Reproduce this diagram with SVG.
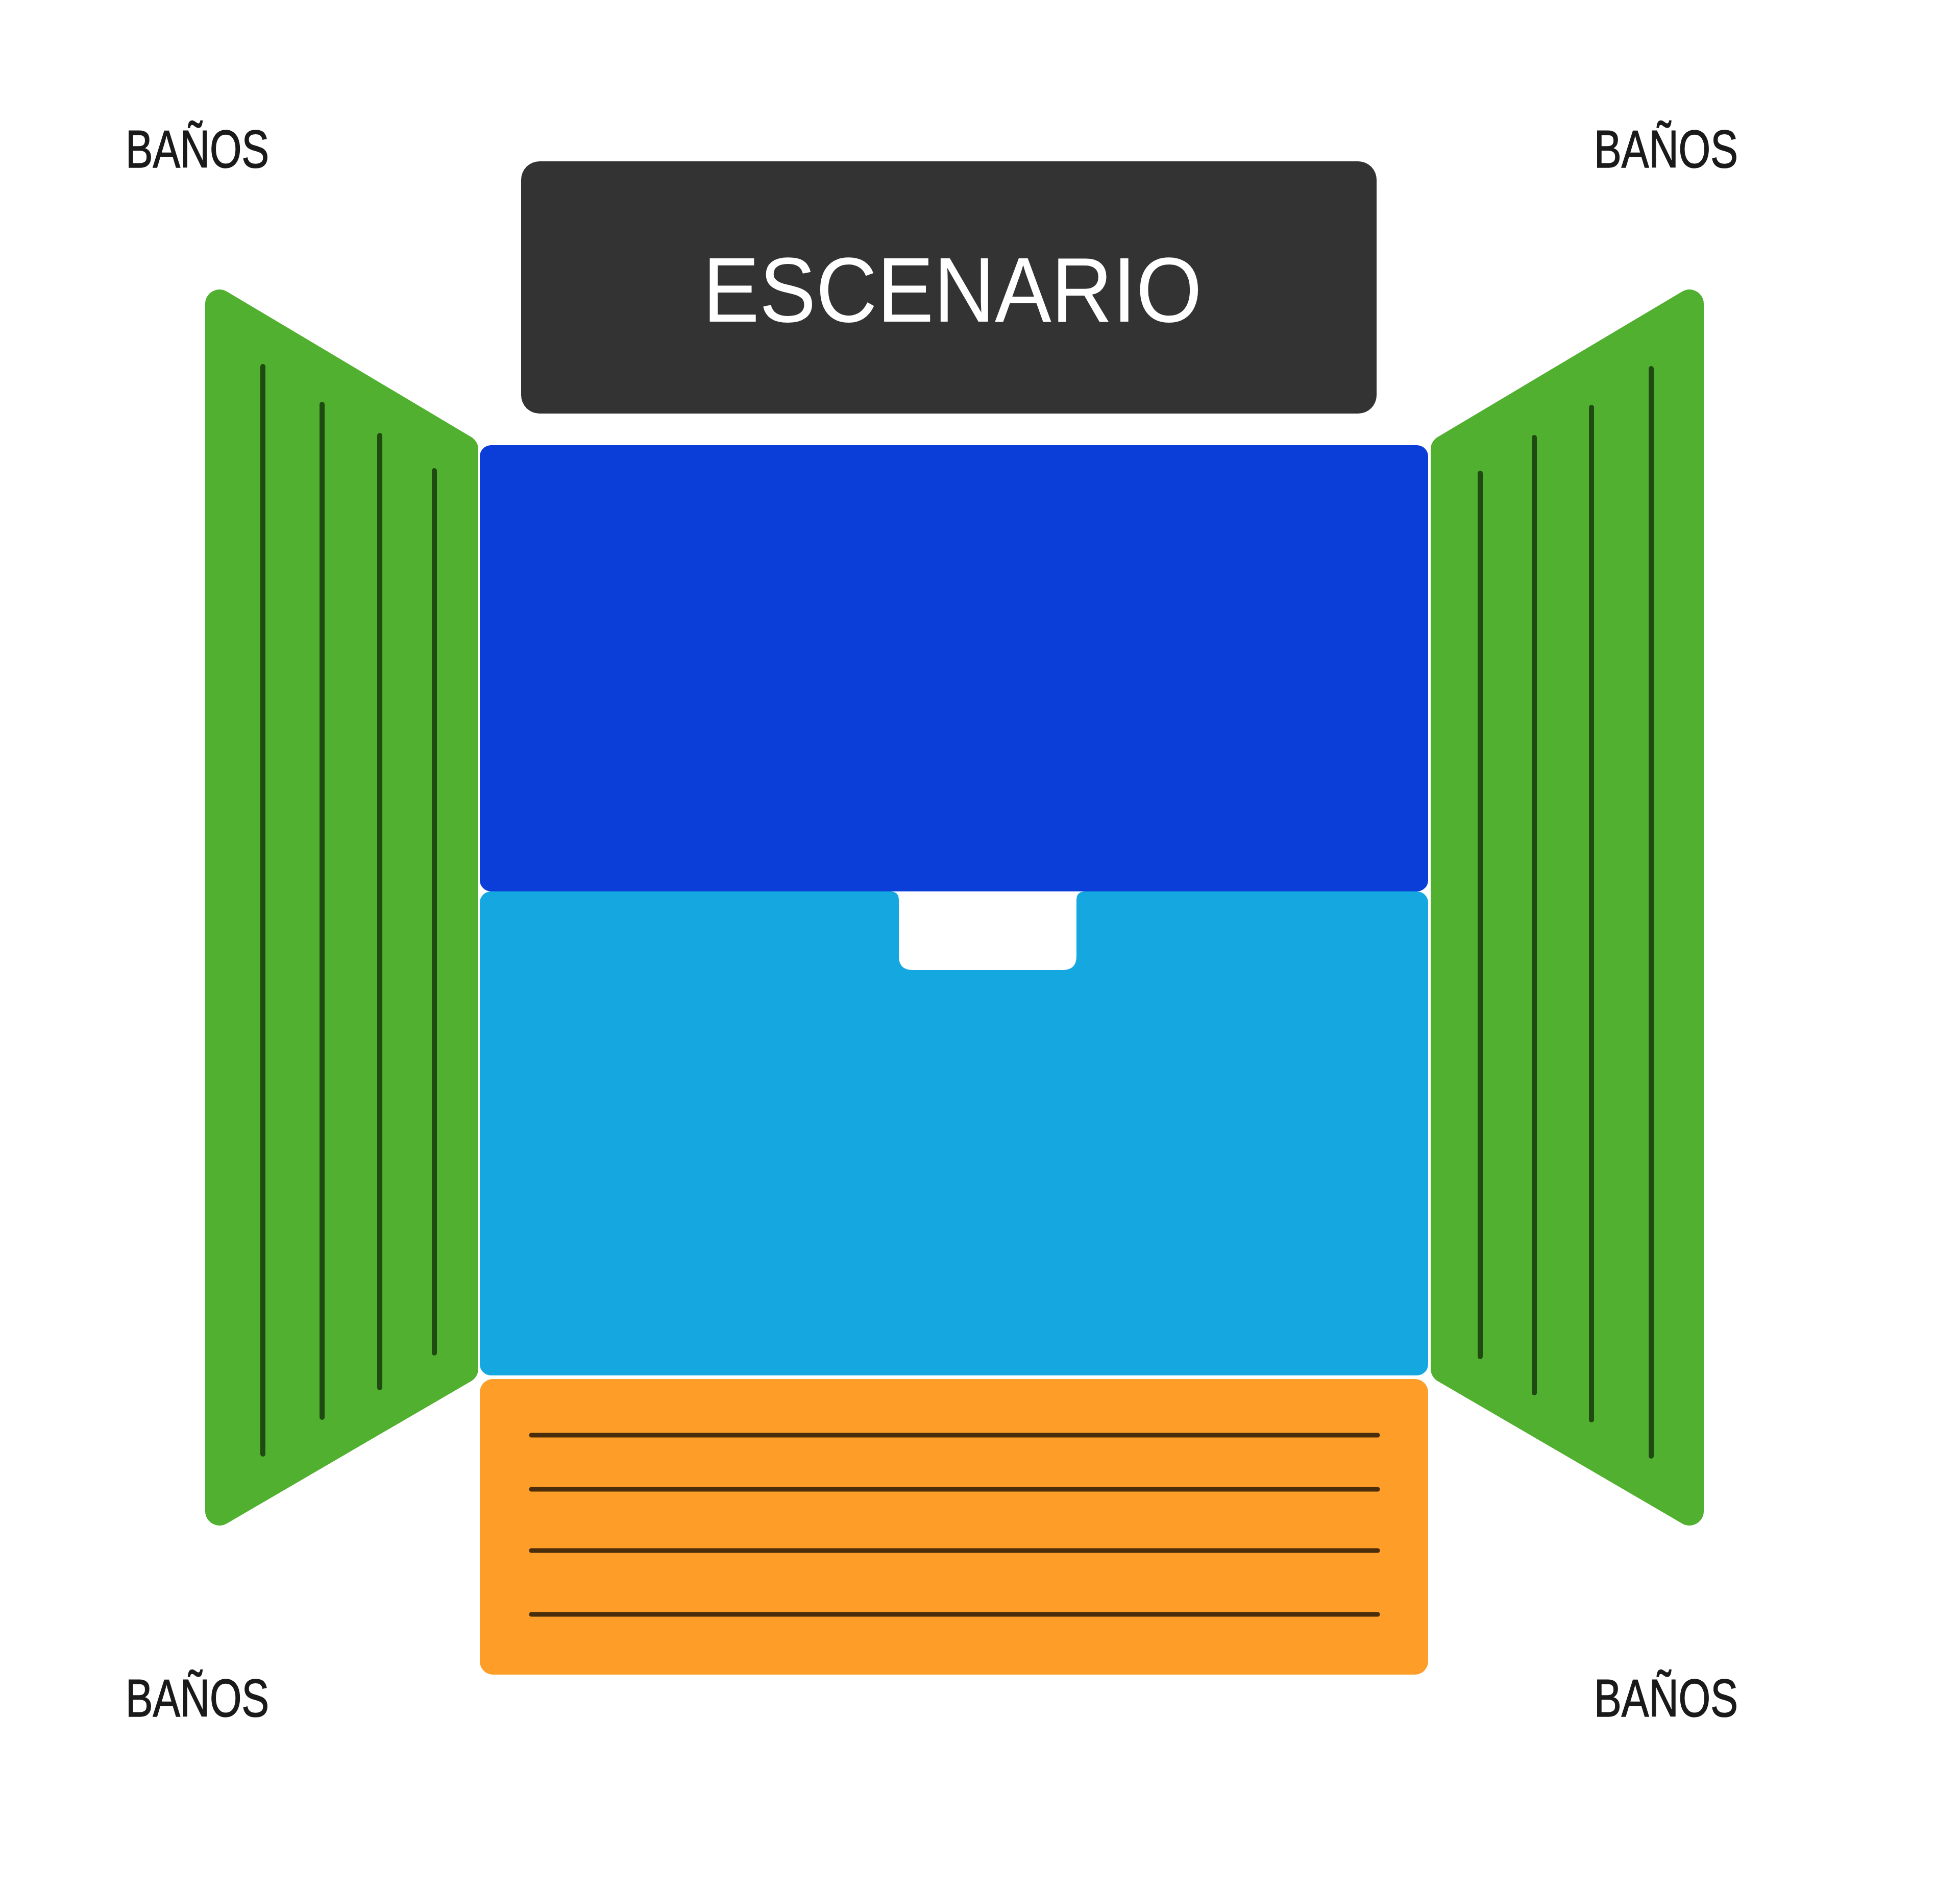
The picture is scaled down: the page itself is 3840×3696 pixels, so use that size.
<svg xmlns="http://www.w3.org/2000/svg" width="3840" height="3696" viewBox="0 0 3840 3696">
  <style>
    .green { fill: #51B02F; stroke: #51B02F; stroke-width: 56; stroke-linejoin: round; }
    .gline { stroke: #1F4A12; stroke-width: 10; stroke-linecap: round; fill: none; }
    .oline { stroke: #4A2E0B; stroke-width: 9; stroke-linecap: round; fill: none; }
    .banos { font-family: "Liberation Sans", Arial, sans-serif; font-size: 103px; fill: #1A1A1A; stroke: #1A1A1A; stroke-width: 1.5; }
    .stage-text { font-family: "Liberation Sans", Arial, sans-serif; font-size: 180px; fill: #FFFFFF; }
  </style>
  <rect x="0" y="0" width="3840" height="3696" fill="#FFFFFF"/>

  <g id="escenario">
    <rect x="1021" y="316" width="1676" height="494" rx="36" ry="36" fill="#333333"/>
    <text class="stage-text" x="1377" y="630" textLength="978" lengthAdjust="spacingAndGlyphs">ESCENARIO</text>
  </g>

  <g id="zona-izquierda">
    <polygon class="green" points="430,595 909,880 909,2681 430,2960"/>
    <line class="gline" x1="515" y1="718" x2="515" y2="2848"/>
    <line class="gline" x1="631" y1="792" x2="631" y2="2776"/>
    <line class="gline" x1="744" y1="853" x2="744" y2="2718"/>
    <line class="gline" x1="851" y1="922" x2="851" y2="2650"/>
  </g>

  <g id="zona-derecha">
    <polygon class="green" points="3310,595 2831,880 2831,2681 3310,2960"/>
    <line class="gline" x1="3235" y1="722" x2="3235" y2="2852"/>
    <line class="gline" x1="3118" y1="798" x2="3118" y2="2781"/>
    <line class="gline" x1="3006" y1="857" x2="3006" y2="2728"/>
    <line class="gline" x1="2900" y1="927" x2="2900" y2="2657"/>
  </g>

  <g id="zona-azul">
    <rect x="940" y="872" width="1858" height="874" rx="22" ry="22" fill="#0B3ED9"/>
  </g>

  <g id="zona-celeste">
    <rect x="940" y="1746" width="1858" height="948" rx="22" ry="22" fill="#15A8E0"/>
    <path d="M1744,1746 Q1761,1746 1761,1763 L1761,1873 Q1761,1900 1788,1900 L2082,1900 Q2109,1900 2109,1873 L2109,1763 Q2109,1746 2126,1746 Z" fill="#FFFFFF"/>
  </g>

  <g id="zona-naranja">
    <rect x="940" y="2701" width="1858" height="579" rx="26" ry="26" fill="#FE9D28"/>
    <line class="oline" x1="1041" y1="2811" x2="2699" y2="2811"/>
    <line class="oline" x1="1041" y1="2917" x2="2699" y2="2917"/>
    <line class="oline" x1="1041" y1="3037" x2="2699" y2="3037"/>
    <line class="oline" x1="1041" y1="3162" x2="2699" y2="3162"/>
  </g>

  <g id="banos-1"><text class="banos" x="246" y="328" textLength="281" lengthAdjust="spacingAndGlyphs">BAÑOS</text></g>
  <g id="banos-2"><text class="banos" x="3123" y="328" textLength="282" lengthAdjust="spacingAndGlyphs">BAÑOS</text></g>
  <g id="banos-3"><text class="banos" x="246" y="3362" textLength="281" lengthAdjust="spacingAndGlyphs">BAÑOS</text></g>
  <g id="banos-4"><text class="banos" x="3123" y="3362" textLength="282" lengthAdjust="spacingAndGlyphs">BAÑOS</text></g>

  <g id="connectors"></g>
</svg>
